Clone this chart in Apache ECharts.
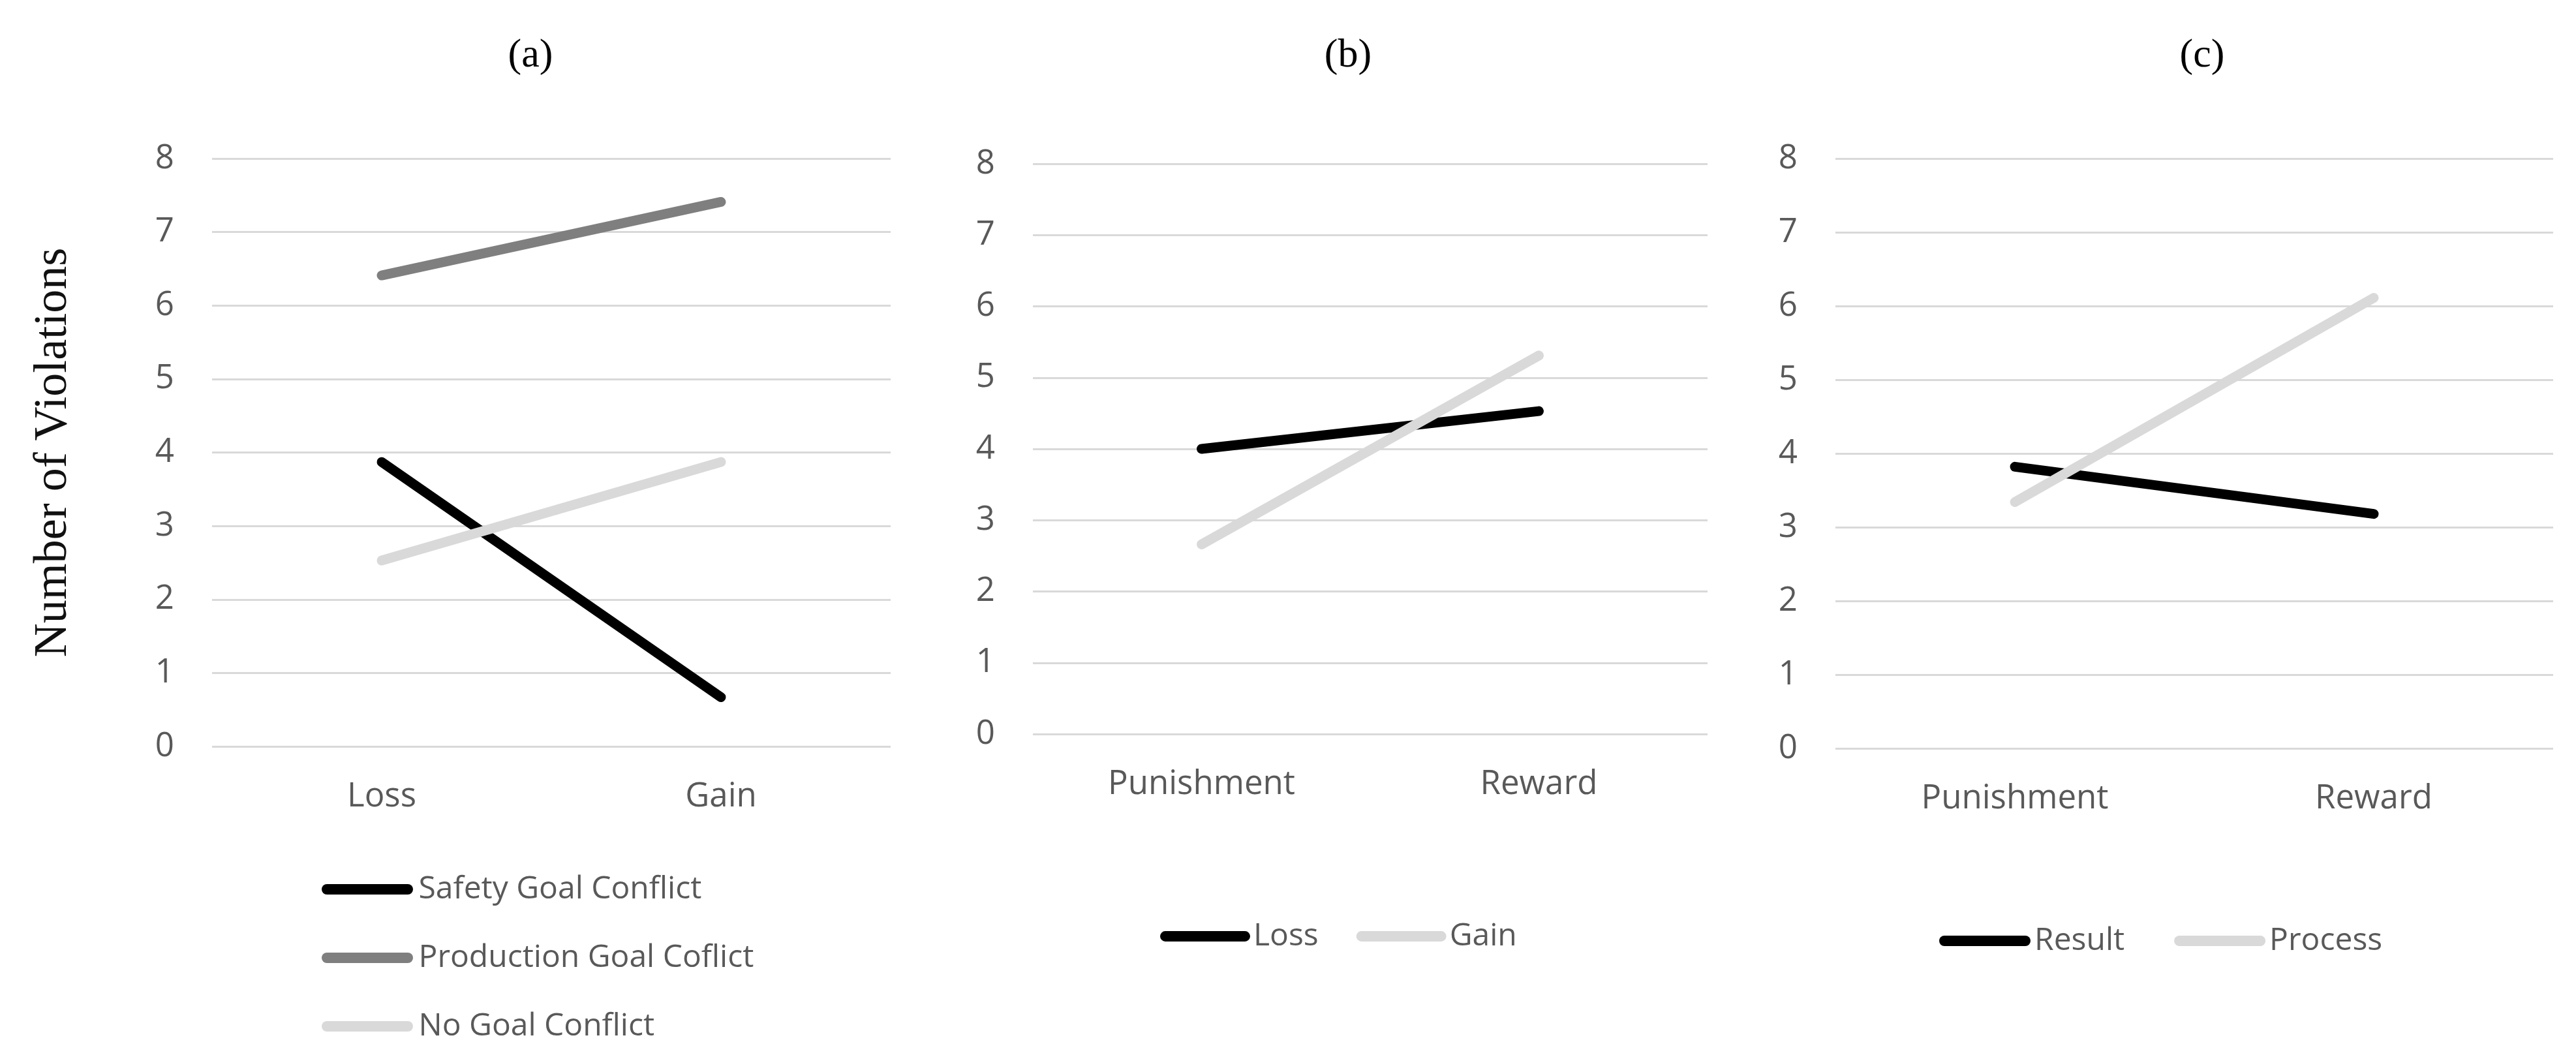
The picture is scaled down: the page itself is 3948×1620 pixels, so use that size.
<!DOCTYPE html>
<html>
<head>
<meta charset="utf-8">
<script src="https://cdn.jsdelivr.net/npm/echarts@6/dist/echarts.min.js"></script>
<style>
  html, body { margin: 0; padding: 0; background: #fff; }
  #main { width: 3948px; height: 1620px; }
</style>
</head>
<body>
<div id="main"></div>
<script>
  // categories
  const framingCats = ['Loss', 'Gain'];
  const feedbackCats = ['Punishment', 'Reward'];

  // (a) goal conflict
  const safetyGoalConflict = [3.87, 0.67];
  const productionGoalConflict = [6.41, 7.41];
  const noGoalConflict = [2.53, 3.87];

  // (b) framing
  const lossValues = [4.00, 4.53];
  const gainValues = [2.66, 5.31];

  // (c) feedback
  const resultValues = [3.82, 3.18];
  const processValues = [3.34, 6.11];

  // y scale
  const yMin = 0;
  const yMax = 8;
  const yStep = 1;

  const labelGray = '#595959';
  const gridGray = '#d9d9d9';
  const sansFont = 'Open Sans';
  const serifFont = 'Liberation Serif';
  const legendIcon = 'path://M8,0 L132,0 A8,8 0 0 1 132,16 L8,16 A8,8 0 0 1 8,0 Z';

  function makeY(idx, withName) {
    let y = {
      type: 'value',
      gridIndex: idx,
      min: yMin,
      max: yMax,
      interval: yStep,
      axisLine: { show: false },
      axisTick: { show: false },
      axisLabel: { color: labelGray, fontFamily: sansFont, fontSize: 51, margin: 58 },
      splitLine: { lineStyle: { color: gridGray, width: 3 } }
    };
    if (withName) {
      y.name = 'Number of Violations';
      y.nameLocation = 'middle';
      y.nameGap = 207;
      y.nameTextStyle = { fontFamily: serifFont, fontSize: 72, color: '#111' };
    }
    return y;
  }

  function makeX(idx, cats) {
    return {
      type: 'category',
      gridIndex: idx,
      data: cats,
      boundaryGap: true,
      axisLine: { show: false },
      axisTick: { show: false },
      axisLabel: { color: labelGray, fontFamily: sansFont, fontSize: 51, margin: 52 }
    };
  }

  function makeLine(name, data, idx, color) {
    return {
      name: name,
      type: 'line',
      xAxisIndex: idx,
      yAxisIndex: idx,
      data: data,
      symbol: 'none',
      showSymbol: false,
      silent: true,
      color: color,
      itemStyle: { color: color },
      lineStyle: { color: color, width: 15, cap: 'round' }
    };
  }

  const legendText = { color: labelGray, fontFamily: sansFont, fontSize: 48, lineHeight: 56 };

  let chart = echarts.init(document.getElementById('main'));
  let option = {
    animation: false,
    backgroundColor: '#fff',
    title: [
      { text: '(a)', left: 808, top: 50, textAlign: 'center',
        textStyle: { fontFamily: serifFont, fontSize: 62, fontWeight: 'normal', color: '#000' } },
      { text: '(b)', left: 2061, top: 50, textAlign: 'center',
        textStyle: { fontFamily: serifFont, fontSize: 62, fontWeight: 'normal', color: '#000' } },
      { text: '(c)', left: 3370, top: 50, textAlign: 'center',
        textStyle: { fontFamily: serifFont, fontSize: 62, fontWeight: 'normal', color: '#000' } }
    ],
    grid: [
      { left: 325, top: 243, width: 1040, height: 901 },
      { left: 1583, top: 251, width: 1034, height: 874 },
      { left: 2813, top: 243, width: 1100, height: 904 }
    ],
    xAxis: [makeX(0, framingCats), makeX(1, feedbackCats), makeX(2, feedbackCats)],
    yAxis: [makeY(0, true), makeY(1, false), makeY(2, false)],
    legend: [
      {
        orient: 'vertical', left: 488, top: 1330, itemWidth: 147, itemHeight: 16, itemGap: 49,
        icon: legendIcon, textStyle: legendText,
        data: ['Safety Goal Conflict', 'Production Goal Coflict', 'No Goal Conflict']
      },
      {
        orient: 'horizontal', left: 1773, top: 1402, itemWidth: 138, itemHeight: 16, itemGap: 58,
        icon: legendIcon, textStyle: legendText,
        data: ['Loss', 'Gain']
      },
      {
        orient: 'horizontal', left: 2967, top: 1409, itemWidth: 142, itemHeight: 16, itemGap: 76,
        icon: legendIcon, textStyle: legendText,
        data: ['Result', 'Process']
      }
    ],
    series: [
      makeLine('Safety Goal Conflict', safetyGoalConflict, 0, '#000000'),
      makeLine('Production Goal Coflict', productionGoalConflict, 0, '#7f7f7f'),
      makeLine('No Goal Conflict', noGoalConflict, 0, '#d9d9d9'),
      makeLine('Loss', lossValues, 1, '#000000'),
      makeLine('Gain', gainValues, 1, '#d9d9d9'),
      makeLine('Result', resultValues, 2, '#000000'),
      makeLine('Process', processValues, 2, '#d9d9d9')
    ]
  };
  chart.setOption(option);
</script>
</body>
</html>
